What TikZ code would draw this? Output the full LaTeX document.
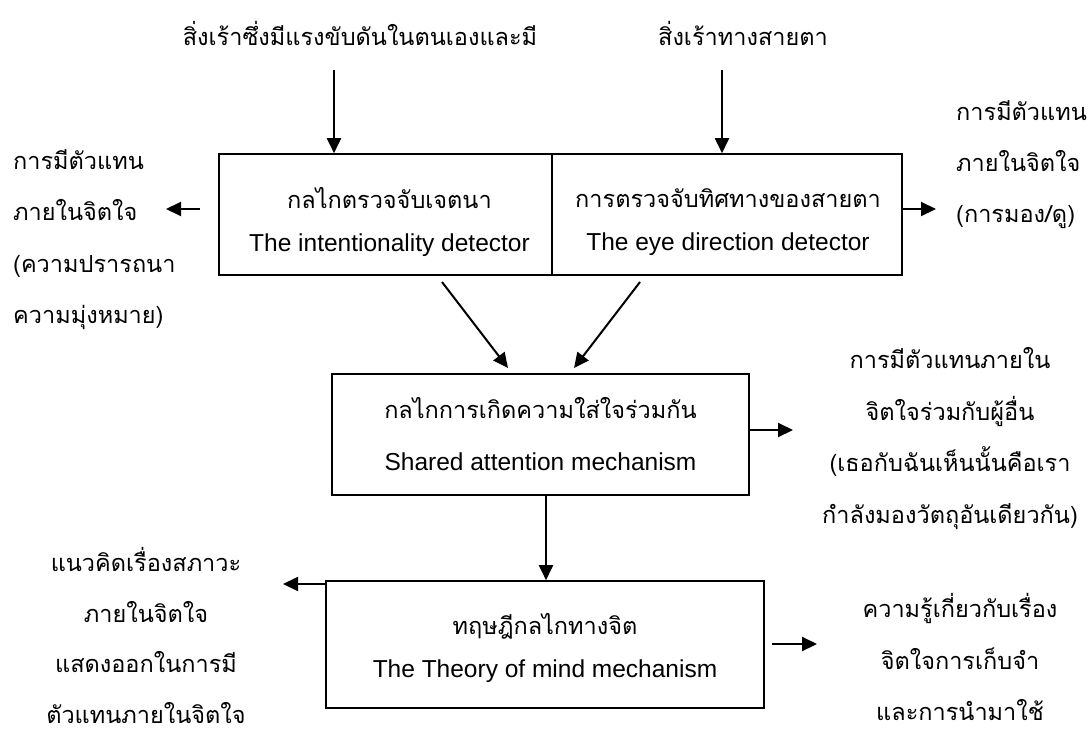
\documentclass[tikz,border=0pt]{standalone}
\usepackage{fontspec}
\setmainfont{Liberation Sans}
\newfontfamily\thai[Script=Thai]{Loma}
\usetikzlibrary{arrows.meta}
\newcommand{\Lx}[1]{\rule[-5pt]{0pt}{10pt}\smash{#1}}
\newcommand{\T}[1]{{\thai\fontsize{23.5}{23.5}\selectfont #1}}
\begin{document}
\begin{tikzpicture}[x=1pt,y=-1pt,
  box/.style={draw, line width=1.6pt, inner sep=0pt},
  arr/.style={line width=2pt, -{Triangle[length=15pt,width=14pt]}},
  bt/.style={font=\fontsize{24.5}{43}\selectfont, inner sep=0pt, align=center},
  bt3/.style={font=\fontsize{24.5}{52}\selectfont, inner sep=0pt, align=center},
  tx/.style={font=\fontsize{24.5}{51.5}\selectfont, inner sep=0pt},
  txl/.style={font=\fontsize{24.5}{50.5}\selectfont, inner sep=0pt},
  txr/.style={font=\fontsize{24.5}{51}\selectfont, inner sep=0pt},
]
\useasboundingbox (0,0) rectangle (1089,734);
% boxes
\node[box, minimum width=333pt, minimum height=121pt] (b1) at (385.5,214.5) {};
\node[box, minimum width=350pt, minimum height=121pt] (b2) at (727,214.5) {};
\node[box, minimum width=417pt, minimum height=121pt] (b3) at (540.5,434.5) {};
\node[box, minimum width=438pt, minimum height=127pt] (b4) at (545,644.5) {};
% box texts
\node[bt] (b1t) at (389.5,229.5) {\Lx{\T{กลไกตรวจจับเจตนา}}\\\Lx{The intentionality detector}};
\node[bt] (b2t) at (728,229) {\Lx{\T{การตรวจจับทิศทางของสายตา}}\\\Lx{The eye direction detector}};
\node[bt3] (b3t) at (540.5,444) {\Lx{\T{กลไกการเกิดความใส่ใจร่วมกัน}}\\\Lx{Shared attention mechanism}};
\node[bt] (b4t) at (545,656) {\Lx{\T{ทฤษฎีกลไกทางจิต}}\\\Lx{The Theory of mind mechanism}};
% outer texts
\node[tx] (s1) at (360,45) {\Lx{\T{สิ่งเร้าซึ่งมีแรงขับดันในตนเองและมี}}};
\node[tx] (s2) at (743,45) {\Lx{\T{สิ่งเร้าทางสายตา}}};
\node[tx, anchor=west, align=left] (l1) at (13,246.5) {\Lx{\T{การมีตัวแทน}}\\\Lx{\T{ภายในจิตใจ}}\\\Lx{\T{(ความปรารถนา}}\\\Lx{\T{ความมุ่งหมาย)}}};
\node[txr, anchor=west, align=left] (r1) at (956,171.5) {\Lx{\T{การมีตัวแทน}}\\\Lx{\T{ภายในจิตใจ}}\\\Lx{\T{(การมอง/ดู)}}};
\node[tx, align=center] (r2) at (950,445.75) {\Lx{\T{การมีตัวแทนภายใน}}\\\Lx{\T{จิตใจร่วมกับผู้อื่น}}\\\Lx{\T{(เธอกับฉันเห็นนั้นคือเรา}}\\\Lx{\T{กำลังมองวัตถุอันเดียวกัน)}}};
\node[txl, align=center] (l2) at (146,647.5) {\Lx{\T{แนวคิดเรื่องสภาวะ}}\\\Lx{\T{ภายในจิตใจ}}\\\Lx{\T{แสดงออกในการมี}}\\\Lx{\T{ตัวแทนภายในจิตใจ}}};
\node[tx, align=center] (r3) at (960,669) {\Lx{\T{ความรู้เกี่ยวกับเรื่อง}}\\\Lx{\T{จิตใจการเก็บจำ}}\\\Lx{\T{และการนำมาใช้}}};
% arrows
\coordinate (a1) at (334,70);
\coordinate (a2) at (722,70);
\draw[arr] (a1) -- (a1 |- b1.north);
\draw[arr] (a2) -- (a2 |- b2.north);
\coordinate (c1s) at (200,209);
\coordinate (c1e) at (166,209);
\draw[arr] (c1s) -- (c1e);
\coordinate (c2e) at (936,209);
\draw[arr] (b2.east |- c2e) -- (c2e);
\coordinate (d1s) at (442,282);
\coordinate (d1e) at (508,368);
\coordinate (d2s) at (640,282);
\coordinate (d2e) at (574,368);
\draw[arr] (d1s) -- (d1e);
\draw[arr] (d2s) -- (d2e);
\coordinate (e3) at (793,430);
\draw[arr] (b3.east |- e3) -- (e3);
\coordinate (v) at (546,0);
\draw[arr] (b3.south -| v) -- (b4.north -| v);
\coordinate (w4) at (283,584);
\draw[arr] (b4.west |- w4) -- (w4);
\coordinate (r4s) at (772,644);
\coordinate (r4e) at (817,644);
\draw[arr] (r4s) -- (r4e);
\end{tikzpicture}
\end{document}
